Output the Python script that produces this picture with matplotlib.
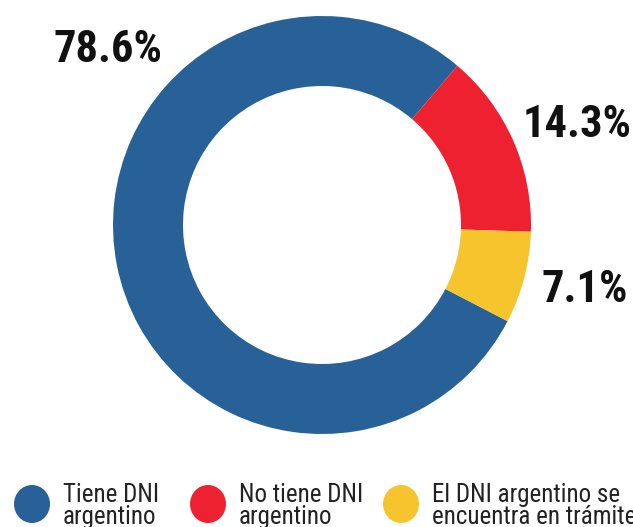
import matplotlib.pyplot as plt
from matplotlib.patches import Ellipse

# data
categorias = ["Tiene DNI\nargentino", "No tiene DNI\nargentino", "El DNI argentino se\nencuentra en trámite"]
valores = [78.6, 14.3, 7.1]
etiquetas = ["78.6%", "14.3%", "7.1%"]
colores = ["#276198", "#ee2130", "#f6c42c"]

W, H = 633, 527
fig = plt.figure(figsize=(W / 100, H / 100), dpi=100)
ax = fig.add_axes([0, 0, 1, 1])

cx, cy, r = 322, H - 225, 209
ax.pie(valores, colors=colores, startangle=-27.4, counterclock=False,
       center=(cx, cy), radius=r,
       wedgeprops=dict(width=70, edgecolor="none"))
ax.set_xlim(0, W)
ax.set_ylim(0, H)
ax.set_aspect("equal")
ax.axis("off")

fuente = ["Roboto Condensed", "DejaVu Sans"]

# percentage labels
pos_etq = [(108, 50), (577, 125), (585, 290)]
for txt, (x, y) in zip(etiquetas, pos_etq):
    ax.text(x, H - y, txt, ha="center", va="center", fontsize=32,
            fontweight="bold", family=fuente, color="#111111")

# legend
pos_ley = [32, 208, 401]
for cat, col, x in zip(categorias, colores, pos_ley):
    ax.add_patch(Ellipse((x, H - 504), 36, 38, color=col, lw=0))
    ax.text(x + 31, H - 506, cat, ha="left", va="center", fontsize=18,
            family=fuente, color="#222222", linespacing=0.9)

fig.savefig("out.png", dpi=100)
